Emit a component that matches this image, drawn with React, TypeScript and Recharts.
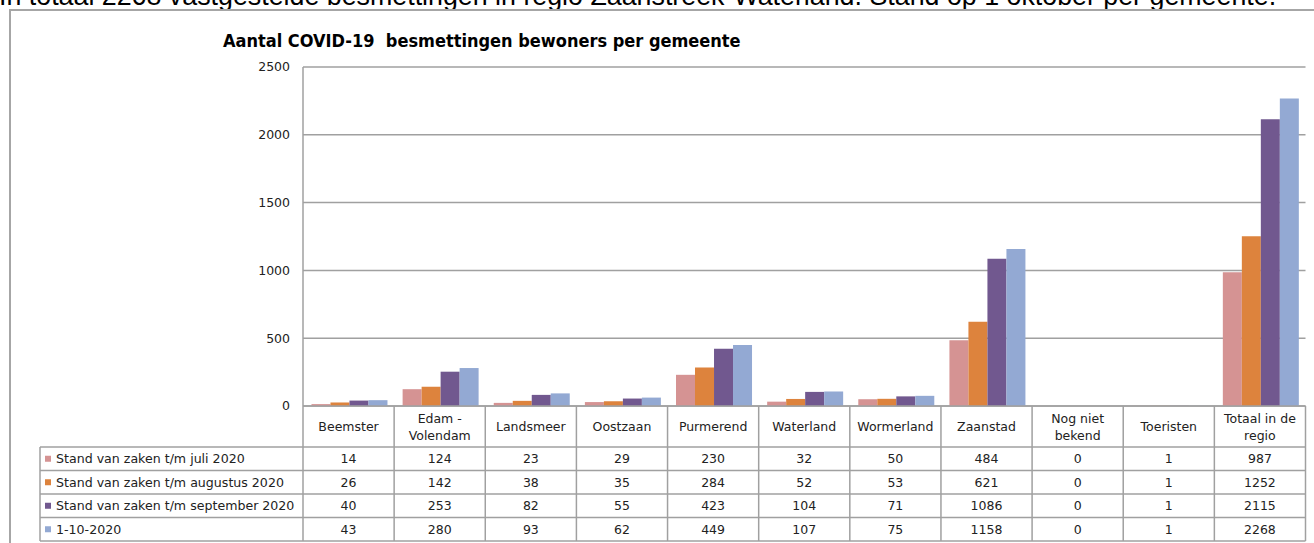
import React from 'react';
import { BarChart, Bar, XAxis, YAxis, CartesianGrid } from 'recharts';

const categories = [
  'Beemster',
  'Edam -\nVolendam',
  'Landsmeer',
  'Oostzaan',
  'Purmerend',
  'Waterland',
  'Wormerland',
  'Zaanstad',
  'Nog niet\nbekend',
  'Toeristen',
  'Totaal in de\nregio',
];
const julValues = [14, 124, 23, 29, 230, 32, 50, 484, 0, 1, 987];
const augValues = [26, 142, 38, 35, 284, 52, 53, 621, 0, 1, 1252];
const sepValues = [40, 253, 82, 55, 423, 104, 71, 1086, 0, 1, 2115];
const oktValues = [43, 280, 93, 62, 449, 107, 75, 1158, 0, 1, 2268];
const seriesNames = [
  'Stand van zaken t/m juli 2020',
  'Stand van zaken t/m augustus 2020',
  'Stand van zaken t/m september 2020',
  '1-10-2020',
];
const seriesKeys = ['jul', 'aug', 'sep', 'okt'];
const seriesValues = [julValues, augValues, sepValues, oktValues];
const seriesColors = ['#D59393', '#DD833D', '#71588F', '#93A9D3'];
const yTicks = [0, 500, 1000, 1500, 2000, 2500];

const headline =
  'In totaal 2268 vastgestelde besmettingen in regio Zaanstreek-Waterland. Stand op 1 oktober per gemeente.';
const chartTitle = 'Aantal COVID-19  besmettingen bewoners per gemeente';

const data = categories.map((c, i) => ({
  name: c,
  jul: julValues[i],
  aug: augValues[i],
  sep: sepValues[i],
  okt: oktValues[i],
}));

const W = 1314;
const H = 543;
const PLOT_LEFT = 303;
const PLOT_RIGHT = 1305.5;
const TABLE_LEFT = 40;
const COL_W = (PLOT_RIGHT - PLOT_LEFT) / categories.length;
const LABEL_ROW_H = 41;
const ROW_H = 23.5;
const GRID = '#A0A0A0';
const FONT = '"DejaVu Sans", Verdana, sans-serif';
const FS = 12.5;
const LEGEND_FS = 12.6;

function TableTick(props: any) {
  const { x, y, payload } = props;
  const i: number = payload.index;
  const lines = String(payload.value).split('\n');
  const tableBottom = LABEL_ROW_H + ROW_H * 4;
  const labelCenter = LABEL_ROW_H / 2;
  const lineGap = 17;
  return (
    <g>
      {lines.map((ln, k) => (
        <text
          key={'l' + k}
          x={x}
          y={y + labelCenter + (k - (lines.length - 1) / 2) * lineGap}
          textAnchor="middle"
          dominantBaseline="central"
          fontFamily={FONT}
          fontSize={FS}
          fill="#222"
        >
          {ln}
        </text>
      ))}
      {seriesValues.map((vals, r) => (
        <text
          key={'v' + r}
          x={x}
          y={y + LABEL_ROW_H + ROW_H * r + ROW_H / 2}
          textAnchor="middle"
          dominantBaseline="central"
          fontFamily={FONT}
          fontSize={FS}
          fill="#222"
        >
          {vals[i]}
        </text>
      ))}
      <line x1={x + COL_W / 2} y1={y} x2={x + COL_W / 2} y2={y + tableBottom} stroke={GRID} strokeWidth={1.5} />
      {i === 0 && (
        <g>
          <line x1={x - COL_W / 2} y1={y} x2={x - COL_W / 2} y2={y + tableBottom} stroke={GRID} strokeWidth={1.5} />
          <line x1={TABLE_LEFT} y1={y + LABEL_ROW_H} x2={TABLE_LEFT} y2={y + tableBottom} stroke={GRID} strokeWidth={1.5} />
          {[0, 1, 2, 3, 4].map((r) => (
            <line
              key={'h' + r}
              x1={TABLE_LEFT}
              y1={y + LABEL_ROW_H + ROW_H * r}
              x2={PLOT_RIGHT}
              y2={y + LABEL_ROW_H + ROW_H * r}
              stroke={GRID}
              strokeWidth={1.5}
            />
          ))}
          {seriesNames.map((nm, r) => {
            const cy = y + LABEL_ROW_H + ROW_H * r + ROW_H / 2;
            return (
              <g key={'lg' + r}>
                <rect x={TABLE_LEFT + 5} y={cy - 3} width={6} height={6} fill={seriesColors[r]} />
                <text
                  x={TABLE_LEFT + 16}
                  y={cy}
                  textAnchor="start"
                  dominantBaseline="central"
                  fontFamily={FONT}
                  fontSize={LEGEND_FS}
                  fill="#222"
                >
                  {nm}
                </text>
              </g>
            );
          })}
        </g>
      )}
    </g>
  );
}

export default function App() {
  return (
    <div style={{ position: 'absolute', left: 0, top: 0, width: W, height: H, overflow: 'hidden', background: '#fff' }}>
      <div
        style={{
          position: 'absolute',
          left: -1,
          top: -16.6,
          fontFamily: '"Liberation Sans", Arial, sans-serif',
          fontSize: 26.8,
          lineHeight: '26.8px',
          whiteSpace: 'pre',
          color: '#000',
        }}
      >
        {headline}
      </div>
      <div
        style={{
          position: 'absolute',
          left: 9,
          top: 9,
          width: 1400,
          height: 600,
          border: '2px solid #A6A6A6',
          boxSizing: 'border-box',
        }}
      />
      <div
        style={{
          position: 'absolute',
          left: 223,
          top: 31.5,
          fontFamily: '"DejaVu Sans Condensed", "DejaVu Sans", sans-serif',
          fontWeight: 'bold',
          fontSize: 18,
          lineHeight: '18px',
          whiteSpace: 'pre',
          color: '#000',
        }}
      >
        {chartTitle}
      </div>
      <div style={{ position: 'absolute', left: 0, top: 0 }}>
        <BarChart
          width={W}
          height={H}
          data={data}
          margin={{ top: 67, right: W - PLOT_RIGHT, left: 0, bottom: 0 }}
          barCategoryGap="9.3%"
          barGap={0}
        >
          <CartesianGrid horizontal vertical={false} stroke={GRID} strokeWidth={1.5} />
          <YAxis
            width={PLOT_LEFT}
            domain={[0, 2500]}
            ticks={yTicks}
            interval={0}
            tickLine={false}
            tickSize={0}
            tickMargin={13}
            axisLine={{ stroke: GRID, strokeWidth: 1.5 }}
            tick={{ fontFamily: FONT, fontSize: FS, fill: '#222' }}
          />
          <XAxis
            dataKey="name"
            height={137}
            interval={0}
            tickLine={false}
            tickSize={0}
            tickMargin={0}
            axisLine={{ stroke: GRID, strokeWidth: 1.5 }}
            tick={<TableTick />}
          />
          {seriesKeys.map((k, r) => (
            <Bar key={k} dataKey={k} name={seriesNames[r]} fill={seriesColors[r]} isAnimationActive={false} />
          ))}
        </BarChart>
      </div>
    </div>
  );
}
